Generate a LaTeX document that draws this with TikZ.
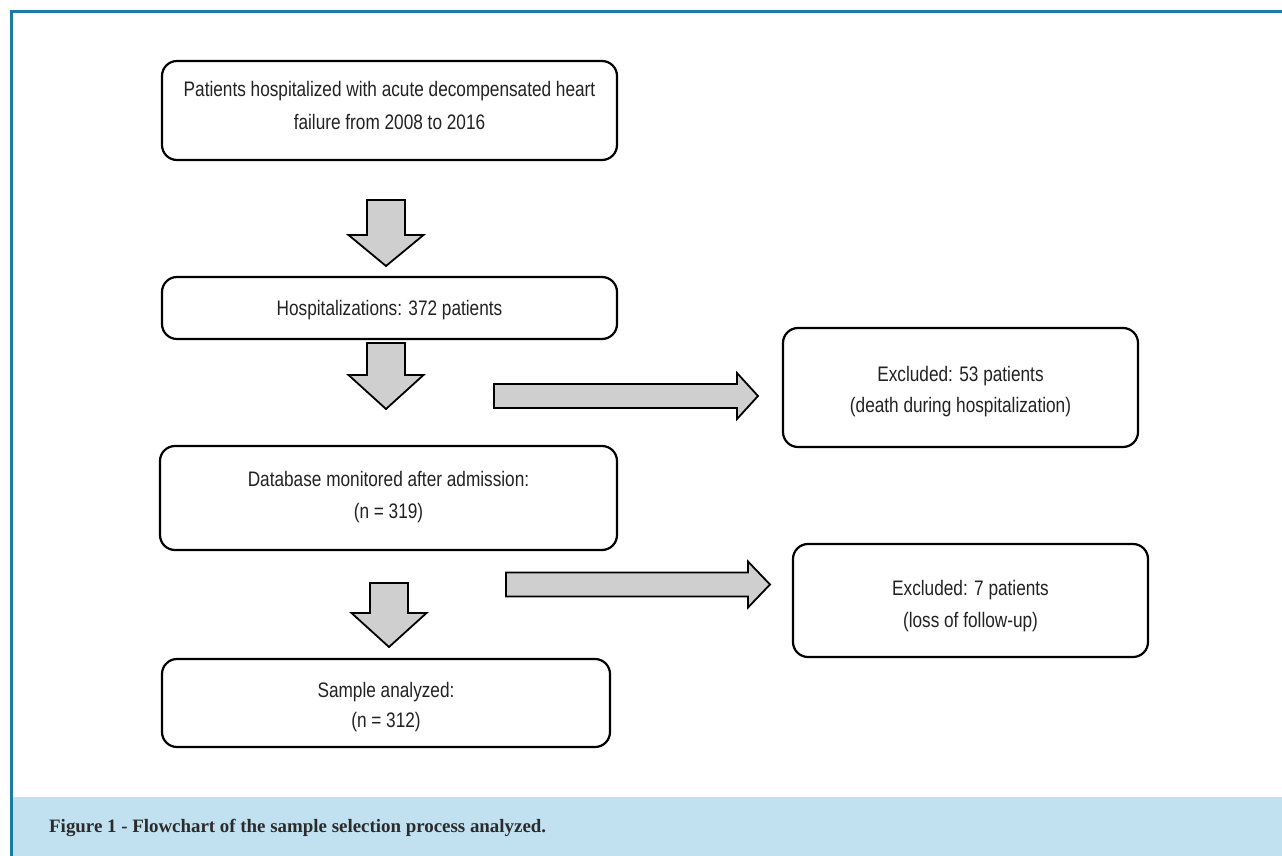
\documentclass[tikz,border=0pt]{standalone}
\usepackage{fontspec}
\setmainfont[FakeStretch=0.82]{Liberation Sans}
\newfontfamily\capfont{Liberation Serif}
\usetikzlibrary{calc}
\definecolor{frameblue}{HTML}{1B7BA6}
\definecolor{capbg}{HTML}{C1E1F1}
\definecolor{arrgray}{HTML}{CFCFCF}
\definecolor{txt}{HTML}{222222}
\definecolor{captxt}{HTML}{2B2B2B}
\newcommand\DownBlk[4]{\draw[blk] (#1-19,#2) -- (#1+19,#2) -- (#1+19,#3) -- (#1+37.5,#3) -- (#1,#4) -- (#1-37.5,#3) -- (#1-19,#3) -- cycle;}
\newcommand\RightBlk[4]{\draw[blk] (#2,#1-12) -- (#3,#1-12) -- (#3,#1-23) -- (#4,#1) -- (#3,#1+23) -- (#3,#1+12) -- (#2,#1+12) -- cycle;}
\begin{document}
\begin{tikzpicture}[x=1pt,y=-1pt,
  box/.style={draw=black, line width=2.2pt, rounded corners=15pt, align=center, text=txt,
    font=\fontsize{21}{32}\selectfont, inner sep=0pt, text depth=0pt},
  blk/.style={draw=black, line width=1.8pt, fill=arrgray, line join=miter}]
\useasboundingbox (0,0) rectangle (1282,856);
\fill[white] (0,0) rectangle (1282,856);
\fill[capbg] (11,797) rectangle (1282,856);
\draw[frameblue, line width=3pt] (11,856) -- (11,12) -- (1282,12);

\node[box, minimum width=455pt, minimum height=99pt, font=\fontsize{21}{33}\selectfont, text height=38pt] (b1) at (389.5,110.5)
  {Patients hospitalized with acute decompensated heart\\failure from 2008 to 2016};
\node[box, minimum width=455pt, minimum height=62pt, text height=15pt] (b2) at (389.5,308)
  {Hospitalizations: 372 patients};
\node[box, minimum width=355pt, minimum height=119pt, font=\fontsize{21}{31}\selectfont, text height=50pt] (b3) at (960.5,387.5)
  {Excluded: 53 patients\\(death during hospitalization)};
\node[box, minimum width=457pt, minimum height=104pt, text height=41pt] (b4) at (388.5,498)
  {Database monitored after admission:\\(n = 319)};
\node[box, minimum width=448pt, minimum height=88pt, font=\fontsize{21}{30}\selectfont, text height=48.5pt] (b5) at (386,703)
  {Sample analyzed:\\(n = 312)};
\node[box, minimum width=355pt, minimum height=113pt, text height=54.5pt] (b6) at (970.5,600.5)
  {Excluded: 7 patients\\(loss of follow-up)};

\DownBlk{386}{200}{235}{266}
\DownBlk{386}{343}{375}{409}
\DownBlk{389}{583}{613}{647}
\RightBlk{396}{494}{737}{758}
\RightBlk{584.5}{506}{748}{770}

\node[anchor=west, inner sep=0pt, text=captxt, font=\capfont\bfseries\fontsize{18.9}{22}\selectfont] (cap) at (49,828)
  {Figure 1 - Flowchart of the sample selection process analyzed.};
\end{tikzpicture}
\end{document}
